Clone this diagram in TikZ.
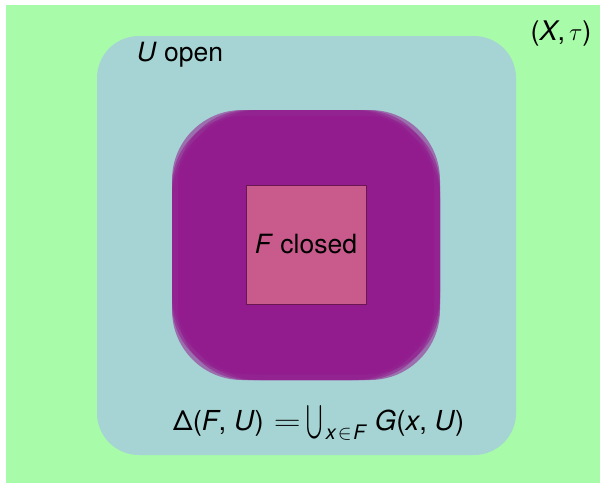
\documentclass[tikz,border=0pt]{standalone}
\usepackage{amsmath}
\usepackage{fontspec}
\setmainfont{TeX Gyre Heros}
\definecolor{bggreen}{RGB}{168,251,168}
\definecolor{ublue}{RGB}{166,212,212}
\definecolor{gpurple}{RGB}{146,28,142}
\definecolor{fpink}{RGB}{200,90,140}
\definecolor{fborder}{RGB}{106,22,80}
\tikzset{
  lbl/.style={font=\fontsize{26.5}{30}\selectfont, inner sep=0pt, text=black},
  gset/.style={fill=gpurple, fill opacity=0.55, draw=none, rounded corners=70pt},
}
\begin{document}
\begin{tikzpicture}[x=1pt,y=-1pt]
\useasboundingbox (0,0) rectangle (600,483);
\fill[white] (0,0) rectangle (600,483);
\fill[bggreen] (6,5) rectangle (600,483);
% U open set
\fill[ublue, rounded corners=42pt] (97,36) rectangle (516,455);
% union of G(x,U)
\foreach \dx in {-9,-3,3,9}{
  \foreach \dy in {-9,-3,3,9}{
    \fill[gset] (181+\dx,119+\dy) rectangle (431+\dx,371+\dy);
  }
}
% F closed
\node[draw=fborder, fill=fpink, line width=0.8pt, minimum width=120pt, minimum height=119pt, inner sep=0pt] (F) at (306,244.5) {};
\node[lbl] (Flbl) at (F.center) {\textit{F} closed};
\node[lbl] (Ulbl) at (180,55) {\textit{U} open};
\node[lbl, font=\fontsize{27}{30}\selectfont] (X) at (561,34) {(\textit{X},\hspace{4pt}$\tau$)};
\node[lbl, font=\fontsize{27.5}{30}\selectfont, anchor=base west] (delta) at (173,430)
  {Δ(\textit{F}, \textit{U})\hspace{10pt}\scalebox{1.5}[1.15]{$=$}\hspace{6pt}\raisebox{-1pt}{\scalebox{0.78}[1.35]{$\bigcup$}}\hspace{3pt}\raisebox{-9pt}{\fontsize{20}{22}\selectfont\textit{x}\hspace{1.5pt}$\in$\hspace{1.5pt}\textit{F}}\hspace{8pt}\textit{G}(\textit{x}, \textit{U})};
\end{tikzpicture}
\end{document}
